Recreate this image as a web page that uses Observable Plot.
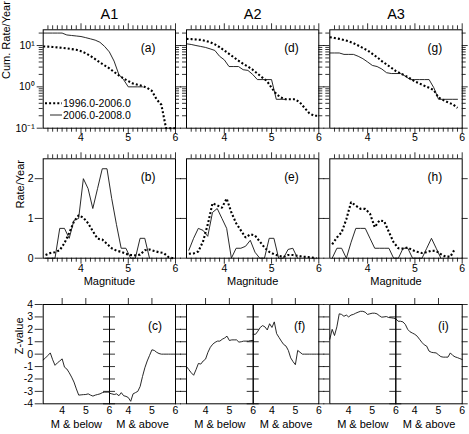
<!DOCTYPE html>
<html><head><meta charset="utf-8">
<script src="https://cdn.jsdelivr.net/npm/d3@7"></script>
<script src="https://cdn.jsdelivr.net/npm/@observablehq/plot@0.6"></script>
<style>
body{margin:0;background:#fff}
#chart{position:relative;width:469px;height:434px;font-family:"Liberation Sans",Arial,Helvetica,sans-serif;}
#chart svg{position:absolute;left:0;top:0;}
</style></head><body><div id="chart"></div>
<script>
// ---------------- data ----------------
const columns = ["A1", "A2", "A3"];
const periods = ["1996.0-2006.0", "2006.0-2008.0"];
const panelLetters = [["(a)", "(b)", "(c)"], ["(d)", "(e)", "(f)"], ["(g)", "(h)", "(i)"]];
const mags = [3.2,3.3,3.4,3.5,3.6,3.7,3.8,3.9,4.0,4.1,4.2,4.3,4.4,4.5,4.6,4.7,4.8,4.9,5.0,5.1,5.2,5.3,5.4,5.5,5.6,5.7,5.8,5.9,6.0];
const binMags = [3.25,3.35,3.45,3.55,3.65,3.75,3.85,3.95,4.05,4.15,4.25,4.35,4.45,4.55,4.65,4.75,4.85,4.95,5.05,5.15,5.25,5.35,5.45,5.55,5.65,5.75,5.85,5.95];
const xTickLabels = [4, 5, 6];
const cumTickLabels = [0.1, 1, 10];
const rateTickLabels = [0, 1, 2];
const zTickLabels = [4, 3, 2, 1, 0, -1, -2, -3, -4];

// cumulative rate / year (row 1)
const cumA1Old = [9.5,9.4,9.2,9.0,8.8,8.5,8.2,7.9,7.3,6.5,5.6,4.7,3.9,3.3,2.8,2.3,1.9,1.6,1.38,1.2,1.12,1.05,0.95,0.8,0.5,0.37,0.1,0.1,0.1];
const cumA1New = [20,20,20,20,20,18,17.5,17,16.5,15.5,14.5,13.5,12,9.5,7,4.2,2.0,1.5,1.0,1.0,1.0,1.0];
const cumA2Old = [14.5,14.3,14,13.7,13,12,10.7,9.1,7.6,6.3,5.2,4.3,3.6,3.1,2.6,2.1,1.7,1.4,0.95,0.67,0.55,0.5,0.5,0.5,0.42,0.31,0.23,0.2,0.2];
const cumA2New = [11,10.6,10,9.5,9,8.3,7.6,5.5,4.5,3.1,3.1,3.1,2.6,2.5,2.0,1.5,1.5,1.5,1.5,0.5,0.5,0.5];
const cumA3Old = [15.9,15.2,14.5,13.6,12.7,11.4,10,8.7,7.6,6.3,5.2,4.2,3.5,2.9,2.4,2.1,1.85,1.6,1.35,1.2,1.06,0.95,0.83,0.55,0.48,0.42,0.38,0.31];
const cumA3New = [6.6,6.6,6.6,6.1,6.1,6.1,5.5,4.8,4.0,3.3,3.1,2.7,2.2,2.1,2.1,2.1,1.8,1.5,1.5,1.5,1.5,1.5,0.95,0.5,0.5,0.5,0.5,0.5];

// rate / year (row 2)
const rateA1Old = [0.08,0.13,0.15,0.2,0.38,0.63,0.92,1.08,1.02,0.88,0.68,0.49,0.47,0.36,0.25,0.19,0.16,0.11,0.08,0.07,0.09,0.2,0.22,0.18,0.15,0.13,0.03,0];
const rateA1New = [0,0,0,0.75,0.75,0.5,0.95,1.0,2.0,1.75,1.25,1.75,2.25,2.25,1.5,0.85,0.25,0.25,0,0,0.5,0.5,0];
const rateA2Old = [0.11,0.12,0.17,0.42,0.85,1.38,1.33,1.27,1.5,1.15,0.88,0.7,0.52,0.6,0.57,0.42,0.27,0.16,0.1,0.06,0.03,0.08,0.08,0.06,0.04,0.03,0.02,0];
const rateA2New = [0.2,0.5,0.75,0.7,0.55,1.15,1.25,1.0,0.75,0,0.25,0.25,0.3,0.45,0.15,0,0,0.5,0.5,0,0,0.22,0.25,0];
const rateA3Old = [0.35,0.52,0.65,0.98,1.41,1.32,1.24,1.24,1.12,0.78,0.95,0.93,0.66,0.4,0.25,0.24,0.27,0.2,0.16,0.13,0.15,0.19,0.18,0.1,0.04,0.04,0.24];
const rateA3New = [0,0.25,0.25,0,0.4,0.75,0.75,0.75,0.5,0.25,0.25,0.25,0.25,0,0,0.25,0.25,0,0,0,0.25,0.5,0.25,0];

// Z-values (row 3)
const zA1Below = [-0.46,-0.3,-0.1,0.1,-0.45,-0.9,-0.7,-0.55,-0.38,-1.05,-1.2,-1.5,-1.85,-2.25,-2.8,-3.3,-3.28,-3.26,-3.25,-3.2,-3.3,-3.38,-3.3,-3.25,-3.2,-3.1,-3.06,-3.06,-3.06];
const zA1Above = [-3.15,-3.2,-3.25,-3.2,-3.35,-3.1,-3.35,-3.4,-3.5,-3.8,-3.2,-3.1,-3.0,-2.6,-1.8,-1.1,-0.55,-0.1,0.35,0.3,0.15,0.05,0,0,0,0,0,0,0];
const zA2Below = [-1.0,-1.25,-1.5,-1.7,-1.25,-0.75,-0.8,-0.55,-0.4,0.15,0.55,0.8,0.95,1.05,1.05,1.2,1.3,1.45,1.1,1.15,1.15,1.15,0.97,1.0,1.05,1.05,1.05,1.1,1.1];
const zA2Above = [1.6,1.6,1.85,2.15,2.3,2.2,1.95,2.45,2.15,2.6,1.65,1.35,1.05,0.78,0.65,0.3,-0.3,-0.6,-0.85,0.3,0.15,0,0,0,0,0,0,0,0];
const zA3Below = [1.2,2.0,1.5,2.2,3.25,3.2,3.05,3.15,3.0,3.15,3.2,3.3,3.38,3.45,3.45,3.38,3.2,3.25,3.3,3.3,3.25,3.1,2.98,3.0,3.03,2.95,2.93,2.9,2.85];
const zA3Above = [2.85,2.65,2.65,2.6,2.4,2.0,1.8,1.7,1.6,1.45,1.2,0.95,0.75,0.65,0.25,0.15,0.12,0.1,-0.05,-0.2,-0.24,-0.24,-0.24,0.1,-0.1,-0.22,-0.28,-0.36,-0.43];

const cumOld = [cumA1Old, cumA2Old, cumA3Old];
const cumNew = [cumA1New, cumA2New, cumA3New];
const rateOld = [rateA1Old, rateA2Old, rateA3Old];
const rateNew = [rateA1New, rateA2New, rateA3New];
const zBelow = [zA1Below, zA2Below, zA3Below];
const zAbove = [zA1Above, zA2Above, zA3Above];

// ---------------- layout ----------------
const W = 469, H = 434;
const FONT = '"Liberation Sans", Arial, Helvetica, sans-serif';
const layout = {
  cols: [{l: 42.7, r: 175, m: 109}, {l: 186, r: 318.3, m: 252.7}, {l: 329.3, r: 461.7, m: 395.3}],
  rows: [{t: 29.3, b: 127.7}, {t: 158.3, b: 257.7}, {t: 304, b: 403.3}]
};
const solid = {stroke: "#111", strokeWidth: 0.9};
const dotted = {stroke: "#000", strokeWidth: 2.1, strokeDasharray: "2,2.1", strokeLinecap: "butt", strokeLinejoin: "miter"};
const TICK = 10.5;
const chart = document.getElementById("chart");

const pts = (xs, ys) => ys.map((v, i) => ({x: xs[i], y: v}));
const majorX = [4, 5, 6];
const minorX = d3.range(33, 60).filter(d => d % 10 !== 0).map(d => d / 10);
const minorLog = [0.2,0.3,0.4,0.5,0.6,0.7,0.8,0.9,2,3,4,5,6,7,8,9,20];

function ticksX(vals, len, innerH, top, bottom) {
  const o = {x: d => d, stroke: "black", strokeWidth: 0.8};
  const m = [];
  if (top) m.push(Plot.tickX(vals, {...o, insetTop: -len, insetBottom: innerH}));
  if (bottom) m.push(Plot.tickX(vals, {...o, insetTop: innerH, insetBottom: -len}));
  return m;
}
function ticksY(vals, innerW, left, right) {
  const o = {y: d => d, stroke: "black", strokeWidth: 0.8};
  const m = [];
  if (left) m.push(Plot.tickY(vals, {...o, insetLeft: -left, insetRight: innerW}));
  if (right) m.push(Plot.tickY(vals, {...o, insetLeft: innerW, insetRight: -right}));
  return m;
}
function panel({l, r, t, b, y, marks}) {
  const svg = Plot.plot({
    width: W, height: H,
    marginLeft: l, marginRight: W - r, marginTop: t, marginBottom: H - b,
    x: {domain: [3.2, 6], axis: null},
    y: {...y, axis: null},
    style: `position:absolute;left:0;top:0;background:transparent;overflow:visible;font-family:${FONT};`,
    marks: [...marks, Plot.frame({stroke: "black", strokeWidth: 1})]
  });
  chart.append(svg);
}
const xLabels = (dy) => Plot.text(xTickLabels, {x: d => d, frameAnchor: "bottom", dy, text: d => String(d), fontSize: TICK, fill: "black"});
const supFmt = {0.1: "10\u207B\u00B9", 1: "10\u2070", 10: "10\u00B9"};

layout.cols.forEach((c, ci) => {
  const innerW = c.r - c.l;
  // ---- row 1: cumulative ----
  {
    const R = layout.rows[0], innerH = R.b - R.t;
    const marks = [
      ...ticksX(minorX, 4, innerH, true, true),
      ...ticksX(majorX, 6, innerH, true, true),
      ...ticksY(minorLog, innerW, 4, 4),
      ...ticksY(cumTickLabels, innerW, 6, 6),
      Plot.line(pts(mags, cumOld[ci]), {x: "x", y: "y", ...dotted}),
      Plot.line(pts(mags, cumNew[ci]), {x: "x", y: "y", ...solid}),
      xLabels(13),
      Plot.text([columns[ci]], {frameAnchor: "top", dy: -21, text: d => d, fontSize: 14.5, fill: "black"}),
      Plot.text([panelLetters[ci][0]], {frameAnchor: "top-right", dx: -20, dy: 13.5, text: d => d, fontSize: 12, fill: "black"})
    ];
    if (ci === 0) {
      marks.push(Plot.text(cumTickLabels, {y: d => d, frameAnchor: "left", textAnchor: "end", dx: -8.5, text: d => supFmt[d], fontSize: TICK, fill: "black"}));
      marks.push(Plot.text(["Cum. Rate/Year"], {frameAnchor: "left", dx: -37, rotate: -90, text: d => d, fontSize: 11, fill: "black"}));
    }
    panel({l: c.l, r: c.r, t: R.t, b: R.b, y: {type: "log", domain: [0.1, 24]}, marks});
  }
  // ---- row 2: rate ----
  {
    const R = layout.rows[1], innerH = R.b - R.t;
    const marks = [
      ...ticksX(minorX, 4, innerH, true, true),
      ...ticksX(majorX, 6, innerH, true, true),
      ...ticksY(rateTickLabels, innerW, ci === 0 ? 8 : 6, 6),
      Plot.line(pts(binMags, rateOld[ci]), {x: "x", y: "y", ...dotted}),
      Plot.line(pts(binMags, rateNew[ci]), {x: "x", y: "y", ...solid}),
      xLabels(14),
      Plot.text(["Magnitude"], {frameAnchor: "bottom", dy: 27, text: d => d, fontSize: 11, fill: "black"}),
      Plot.text([panelLetters[ci][1]], {frameAnchor: "top-right", dx: -20, dy: 14, text: d => d, fontSize: 12, fill: "black"})
    ];
    if (ci === 0) {
      marks.push(Plot.text(rateTickLabels, {y: d => d, frameAnchor: "left", textAnchor: "end", dx: -9.5, text: d => String(d), fontSize: TICK, fill: "black"}));
      marks.push(Plot.text(["Rate/Year"], {frameAnchor: "left", dx: -22.5, rotate: -90, text: d => d, fontSize: 11, fill: "black"}));
    }
    panel({l: c.l, r: c.r, t: R.t, b: R.b, y: {domain: [0, 2.5]}, marks});
  }
  // ---- row 3: z-values, two sub-panels ----
  {
    const R = layout.rows[2], innerH = R.b - R.t;
    const subs = [
      {l: c.l, r: c.m, data: zBelow[ci], label: "M & below", left: ci === 0 ? 8 : 6, right: 6},
      {l: c.m, r: c.r, data: zAbove[ci], label: "M & above", left: 6, right: 6}
    ];
    subs.forEach((s, si) => {
      const sw = s.r - s.l;
      const marks = [
        ...ticksX([4, 5], 6, innerH, true, false),
        ...ticksY(zTickLabels, sw, s.left, s.right),
        Plot.line(pts(mags, s.data), {x: "x", y: "y", ...solid}),
        xLabels(10),
        Plot.text([s.label], {frameAnchor: "bottom", dy: 24, text: d => d, fontSize: 11, fill: "black"})
      ];
      if (si === 1) marks.push(Plot.text([panelLetters[ci][2]], {frameAnchor: "top-right", dx: -13.5, dy: 17, text: d => d, fontSize: 12, fill: "black"}));
      if (ci === 0 && si === 0) {
        marks.push(Plot.text(zTickLabels, {y: d => d, frameAnchor: "left", textAnchor: "end", dx: -10, text: d => String(d), fontSize: TICK, fill: "black"}));
        marks.push(Plot.text(["Z-value"], {frameAnchor: "left", dx: -23.7, rotate: -90, text: d => d, fontSize: 11, fill: "black"}));
      }
      panel({l: s.l, r: s.r, t: R.t, b: R.b, y: {domain: [-4, 4]}, marks});
    });
  }
});

// ---------------- legend (panel a) ----------------
const legendLayout = [{x1: 45, x2: 62, y: 103.3, style: dotted}, {x1: 50, x2: 62, y: 115, style: solid}];
const leg = d3.create("svg").attr("width", W).attr("height", H)
  .style("position", "absolute").style("left", 0).style("top", 0).style("overflow", "visible");
periods.forEach((p, i) => {
  const L = legendLayout[i];
  leg.append("line").attr("x1", L.x1).attr("x2", L.x2).attr("y1", L.y).attr("y2", L.y)
    .attr("stroke", L.style.stroke).attr("stroke-width", L.style.strokeWidth)
    .attr("stroke-dasharray", L.style.strokeDasharray || null);
  leg.append("text").attr("x", 63).attr("y", L.y).attr("dy", "0.35em")
    .attr("font-family", FONT).attr("font-size", 10.5).attr("fill", "black").text(p);
});
chart.append(leg.node());
</script></body></html>
